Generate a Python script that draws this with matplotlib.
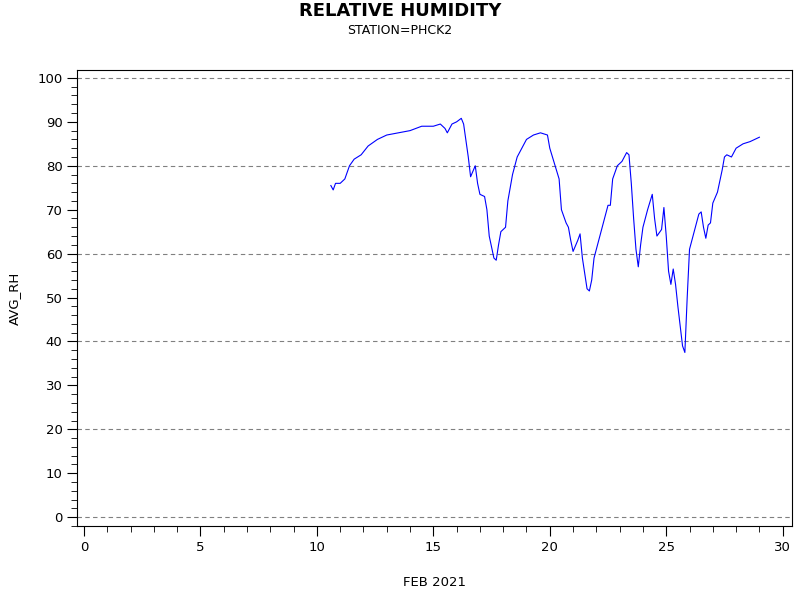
import matplotlib.pyplot as plt
from matplotlib.ticker import MultipleLocator

mpl_font = "DejaVu Sans"
plt.rcParams["font.family"] = mpl_font

# day of February 2021 and average relative humidity
day = [10.6, 10.7, 10.8, 11.0, 11.2, 11.4, 11.6, 11.9, 12.2, 12.6, 13.0, 13.5,
       14.0, 14.5, 15.0, 15.3, 15.5, 15.6, 15.8, 16.0, 16.2, 16.3, 16.5, 16.6,
       16.8, 16.9, 17.0, 17.2, 17.3, 17.4, 17.6, 17.7, 17.8, 17.9, 18.1, 18.2,
       18.4, 18.6, 18.8, 19.0, 19.3, 19.6, 19.9, 20.0, 20.2, 20.4, 20.5, 20.7,
       20.8, 20.9, 21.0, 21.2, 21.3, 21.4, 21.6, 21.7, 21.8, 21.9, 22.1, 22.3,
       22.5, 22.6, 22.7, 22.9, 23.1, 23.3, 23.4, 23.5, 23.6, 23.7, 23.8, 23.9,
       24.0, 24.2, 24.4, 24.5, 24.6, 24.8, 24.9, 25.0, 25.1, 25.2, 25.3, 25.4,
       25.5, 25.7, 25.8, 25.9, 26.0, 26.2, 26.4, 26.5, 26.6, 26.7, 26.8, 26.9,
       27.0, 27.2, 27.4, 27.5, 27.6, 27.8, 28.0, 28.3, 28.6, 29.0]
avg_rh = [75.5, 74.5, 76, 76, 77, 80, 81.5, 82.5, 84.5, 86, 87, 87.5,
          88, 89, 89, 89.5, 88.5, 87.5, 89.5, 90, 90.8, 89.5, 82, 77.5,
          80, 76, 73.5, 73, 70, 64, 59, 58.5, 62, 65, 66, 72,
          78, 82, 84, 86, 87, 87.5, 87, 84, 80.5, 77, 70, 67,
          66, 63, 60.5, 63, 64.5, 59, 52, 51.5, 54, 59, 63, 67,
          71, 71, 77, 80, 81, 83, 82.5, 76, 68, 61, 57, 62,
          66, 70, 73.5, 68, 64, 65.5, 70.5, 64, 56, 53, 56.5, 53,
          48, 39, 37.5, 50, 61, 65, 69, 69.5, 66, 63.5, 66.5, 67,
          71.5, 74, 79, 82, 82.5, 82, 84, 85, 85.5, 86.5]

fig = plt.figure(figsize=(8, 6), dpi=100)
ax = fig.add_axes([77 / 800, 74 / 600, 715 / 800, 456 / 600])

for v in range(0, 101, 20):
    ax.axhline(v, color="#808080", lw=0.8, ls=(0, (4, 3)), zorder=1)

ax.plot(day, avg_rh, color="blue", lw=0.8, zorder=2)

ax.set_xlim(-0.3, 30.4)
ax.set_ylim(-2, 101.8)
ax.xaxis.set_major_locator(MultipleLocator(5))
ax.xaxis.set_minor_locator(MultipleLocator(1))
ax.yaxis.set_major_locator(MultipleLocator(10))
ax.yaxis.set_minor_locator(MultipleLocator(2))
ax.tick_params(which="major", length=7, labelsize=9.5, direction="out")
ax.tick_params(which="minor", length=4, direction="out")

ax.set_xlabel("FEB 2021", fontsize=9.5, labelpad=16)
ax.set_ylabel("AVG_RH", fontsize=9.5, labelpad=12)

fig.text(0.5, 0.982, "RELATIVE HUMIDITY", ha="center", va="center",
         fontsize=13, fontweight="bold")
fig.text(0.5, 0.95, "STATION=PHCK2", ha="center", va="center", fontsize=9)

fig.savefig("out.png", dpi=100, facecolor="white")
